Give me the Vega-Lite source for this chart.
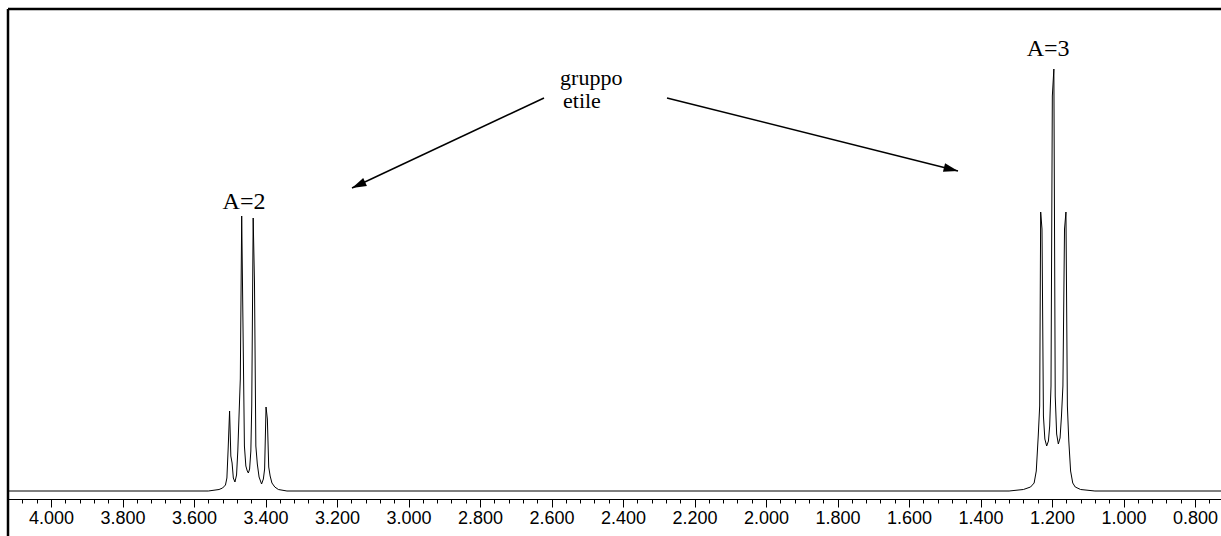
{
  "$schema": "https://vega.github.io/schema/vega-lite/v6.json",
  "width": 1215,
  "height": 490,
  "autosize": {"type": "none"},
  "padding": {"left": 8, "top": 9, "right": 0, "bottom": 37},
  "background": "white",
  "config": {"view": {"stroke": null}},
  "datasets": {
    "spectrum": [
      {"ppm": 4.12, "inten": 0}, {"ppm": 3.56, "inten": 0}, {"ppm": 3.53, "inten": 1.5}, {"ppm": 3.52, "inten": 3},
      {"ppm": 3.512, "inten": 6}, {"ppm": 3.508, "inten": 13}, {"ppm": 3.5045, "inten": 42}, {"ppm": 3.5005, "inten": 80},
      {"ppm": 3.497, "inten": 35}, {"ppm": 3.4935, "inten": 28}, {"ppm": 3.49, "inten": 13}, {"ppm": 3.4855, "inten": 9},
      {"ppm": 3.481, "inten": 16}, {"ppm": 3.4775, "inten": 40}, {"ppm": 3.4705, "inten": 112}, {"ppm": 3.4666, "inten": 275},
      {"ppm": 3.4628, "inten": 160}, {"ppm": 3.459, "inten": 45}, {"ppm": 3.455, "inten": 25}, {"ppm": 3.451, "inten": 20},
      {"ppm": 3.448, "inten": 18}, {"ppm": 3.4445, "inten": 22}, {"ppm": 3.441, "inten": 40}, {"ppm": 3.4385, "inten": 85},
      {"ppm": 3.4345, "inten": 273}, {"ppm": 3.4308, "inten": 208}, {"ppm": 3.427, "inten": 45}, {"ppm": 3.4229, "inten": 27},
      {"ppm": 3.418, "inten": 14}, {"ppm": 3.411, "inten": 7}, {"ppm": 3.406, "inten": 12}, {"ppm": 3.4025, "inten": 22},
      {"ppm": 3.3985, "inten": 84}, {"ppm": 3.3948, "inten": 72}, {"ppm": 3.391, "inten": 24}, {"ppm": 3.387, "inten": 15},
      {"ppm": 3.382, "inten": 8}, {"ppm": 3.374, "inten": 4}, {"ppm": 3.364, "inten": 1.5}, {"ppm": 3.34, "inten": 0},
      {"ppm": 1.32, "inten": 0}, {"ppm": 1.28, "inten": 1.5}, {"ppm": 1.26, "inten": 4}, {"ppm": 1.25, "inten": 8},
      {"ppm": 1.244, "inten": 20}, {"ppm": 1.2385, "inten": 55}, {"ppm": 1.2345, "inten": 85}, {"ppm": 1.2317, "inten": 279},
      {"ppm": 1.228, "inten": 262}, {"ppm": 1.224, "inten": 75}, {"ppm": 1.22, "inten": 52}, {"ppm": 1.2149, "inten": 45},
      {"ppm": 1.21, "inten": 50}, {"ppm": 1.2065, "inten": 65}, {"ppm": 1.2028, "inten": 105}, {"ppm": 1.1991, "inten": 395},
      {"ppm": 1.1948, "inten": 422}, {"ppm": 1.191, "inten": 95}, {"ppm": 1.187, "inten": 57}, {"ppm": 1.1823, "inten": 47},
      {"ppm": 1.1775, "inten": 53}, {"ppm": 1.1735, "inten": 75}, {"ppm": 1.1695, "inten": 105}, {"ppm": 1.165, "inten": 262},
      {"ppm": 1.161, "inten": 279}, {"ppm": 1.157, "inten": 85}, {"ppm": 1.153, "inten": 50}, {"ppm": 1.148, "inten": 20},
      {"ppm": 1.142, "inten": 8}, {"ppm": 1.135, "inten": 4}, {"ppm": 1.12, "inten": 1.5}, {"ppm": 1.08, "inten": 0},
      {"ppm": 0.7217, "inten": 0}
    ],
    "centerLabels": [
      {"ppm": 3.46, "inten": 289, "text": "A=2"},
      {"ppm": 1.211, "inten": 442, "text": "A=3"}
    ],
    "leftLabels": [
      {"ppm": 2.576, "inten": 413, "text": "gruppo"},
      {"ppm": 2.5678, "inten": 390, "text": "etile"}
    ],
    "arrows": [
      {"name": "left", "ppm1": 2.621, "inten1": 393, "ppm2": 3.158, "inten2": 303},
      {"name": "right", "ppm1": 2.277, "inten1": 393, "ppm2": 1.463, "inten2": 320}
    ],
    "frame": [
      {"ppm": 4.1203, "top": 482, "bottom": -45}
    ]
  },
  "layer": [
    {
      "data": {"name": "spectrum"},
      "mark": {"type": "line", "color": "black", "strokeWidth": 1},
      "encoding": {
        "x": {
          "field": "ppm", "type": "quantitative",
          "scale": {"domain": [0.7217, 4.1203], "reverse": true, "nice": false, "zero": false},
          "axis": {
            "title": null,
            "orient": "bottom",
            "grid": false,
            "tickCount": 500,
            "values": [0.76, 0.8, 0.84, 0.88, 0.92, 0.96, 1.0, 1.04, 1.08, 1.12, 1.16, 1.2, 1.24, 1.28, 1.32, 1.36, 1.4, 1.44, 1.48, 1.52, 1.56, 1.6, 1.64, 1.68, 1.72, 1.76, 1.8, 1.84, 1.88, 1.92, 1.96, 2.0, 2.04, 2.08, 2.12, 2.16, 2.2, 2.24, 2.28, 2.32, 2.36, 2.4, 2.44, 2.48, 2.52, 2.56, 2.6, 2.64, 2.68, 2.72, 2.76, 2.8, 2.84, 2.88, 2.92, 2.96, 3.0, 3.04, 3.08, 3.12, 3.16, 3.2, 3.24, 3.28, 3.32, 3.36, 3.4, 3.44, 3.48, 3.52, 3.56, 3.6, 3.64, 3.68, 3.72, 3.76, 3.8, 3.84, 3.88, 3.92, 3.96, 4.0, 4.04, 4.08, 4.12],
            "labelExpr": "abs(round(datum.value*5)-datum.value*5) < 0.001 ? format(datum.value, '.3f') : ''",
            "tickSize": {"condition": {"test": "abs(round(datum.value*5)-datum.value*5) < 0.001", "value": 8}, "value": 4},
            "domainColor": "black",
            "domainWidth": 1,
            "tickColor": "black",
            "tickWidth": 1,
            "labelColor": "black",
            "labelFont": "Liberation Sans",
            "labelFontSize": 18,
            "labelPadding": 2,
            "labelOverlap": false,
            "labelFlush": false,
            "labelBound": false
          }
        },
        "y": {
          "field": "inten", "type": "quantitative",
          "scale": {"domain": [-8, 482], "nice": false, "zero": false},
          "axis": null
        }
      }
    },
    {
      "data": {"name": "frame"},
      "mark": {"type": "rule", "color": "black", "strokeWidth": 2.5},
      "encoding": {"y": {"field": "top", "type": "quantitative", "axis": null}}
    },
    {
      "data": {"name": "frame"},
      "mark": {"type": "rule", "color": "black", "strokeWidth": 2.5},
      "encoding": {
        "x": {"field": "ppm", "type": "quantitative"},
        "y": {"field": "top", "type": "quantitative", "axis": null},
        "y2": {"field": "bottom"}
      }
    },
    {
      "data": {"name": "centerLabels"},
      "mark": {"type": "text", "font": "Liberation Serif", "fontSize": 24, "color": "black", "align": "center", "baseline": "middle"},
      "encoding": {
        "x": {"field": "ppm", "type": "quantitative"},
        "y": {"field": "inten", "type": "quantitative", "axis": null},
        "text": {"field": "text"}
      }
    },
    {
      "data": {"name": "leftLabels"},
      "mark": {"type": "text", "font": "Liberation Serif", "fontSize": 22, "color": "black", "align": "left", "baseline": "middle"},
      "encoding": {
        "x": {"field": "ppm", "type": "quantitative"},
        "y": {"field": "inten", "type": "quantitative", "axis": null},
        "text": {"field": "text"}
      }
    },
    {
      "data": {"name": "arrows"},
      "mark": {"type": "rule", "color": "black", "strokeWidth": 1.5},
      "encoding": {
        "x": {"field": "ppm1", "type": "quantitative"},
        "y": {"field": "inten1", "type": "quantitative", "axis": null},
        "x2": {"field": "ppm2"},
        "y2": {"field": "inten2"}
      }
    },
    {
      "data": {"name": "arrows"},
      "transform": [{"filter": "datum.name == 'left'"}],
      "mark": {"type": "point", "shape": "M0,0L0.55,1.8L-0.55,1.8Z", "filled": true, "color": "black", "opacity": 1, "size": 256, "angle": 245},
      "encoding": {
        "x": {"field": "ppm2", "type": "quantitative"},
        "y": {"field": "inten2", "type": "quantitative", "axis": null}
      }
    },
    {
      "data": {"name": "arrows"},
      "transform": [{"filter": "datum.name == 'right'"}],
      "mark": {"type": "point", "shape": "M0,0L0.55,1.8L-0.55,1.8Z", "filled": true, "color": "black", "opacity": 1, "size": 256, "angle": 104},
      "encoding": {
        "x": {"field": "ppm2", "type": "quantitative"},
        "y": {"field": "inten2", "type": "quantitative", "axis": null}
      }
    }
  ]
}
